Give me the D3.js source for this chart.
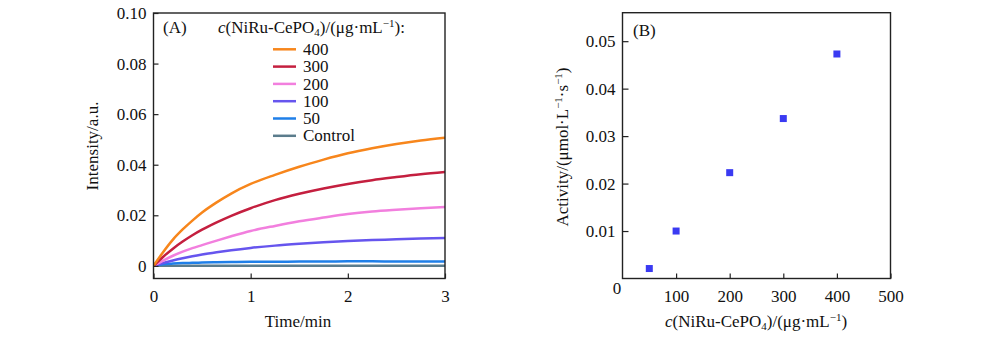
<!DOCTYPE html>
<html>
<head>
<meta charset="utf-8">
<script src="https://cdn.jsdelivr.net/npm/d3@7"></script>
<style>
  body { margin: 0; background: #fff; }
  svg text { font-family: "Liberation Serif", "Times New Roman", serif; fill: #111; }
</style>
</head>
<body>
<svg id="chart" width="1000" height="337"></svg>
<script>
// Panel A: time (min) and intensity per concentration
const times = [0, 0.1, 0.2, 0.3, 0.4, 0.5, 0.65, 0.8, 1.0, 1.25, 1.5, 1.75, 2.0, 2.25, 2.5, 2.75, 3.0];
const series = [
  { name: "400", color: "#f7861c", values: [0, 0.0055, 0.0104, 0.0144, 0.0179, 0.0211, 0.0251, 0.0286, 0.0324, 0.0360, 0.0392, 0.0420, 0.0445, 0.0465, 0.0482, 0.0496, 0.0507] },
  { name: "300", color: "#c41f3f", values: [0, 0.0036, 0.0068, 0.0096, 0.0121, 0.0143, 0.0172, 0.0198, 0.0228, 0.0260, 0.0285, 0.0306, 0.0324, 0.0339, 0.0351, 0.0362, 0.0371] },
  { name: "200", color: "#f27fde", values: [0, 0.0021, 0.0040, 0.0056, 0.0070, 0.0082, 0.0100, 0.0117, 0.0138, 0.0158, 0.0176, 0.0191, 0.0205, 0.0215, 0.0222, 0.0228, 0.0233] },
  { name: "100", color: "#6655ee", values: [0, 0.0011, 0.0021, 0.0030, 0.0038, 0.0045, 0.0054, 0.0062, 0.0071, 0.0080, 0.0087, 0.0093, 0.0098, 0.0102, 0.0105, 0.0108, 0.0110] },
  { name: "50", color: "#1f7fe8", values: [0, 0.0006, 0.0009, 0.0011, 0.0012, 0.0013, 0.0014, 0.0015, 0.0016, 0.0016, 0.0017, 0.0017, 0.0018, 0.0018, 0.0017, 0.0017, 0.0017] },
  { name: "Control", color: "#5b7c8c", values: [0, 0, 0, 0, 0, 0, 0, 0, 0, 0, 0, 0, 0, 0, 0, 0, 0] },
];
const xTicksA = [0, 1, 2, 3];
const yTicksA = [0, 0.02, 0.04, 0.06, 0.08, 0.1];

// Panel B: activity vs concentration
const conc = [50, 100, 200, 300, 400];
const activity = [0.0021, 0.0100, 0.0223, 0.0337, 0.0473];
const xTicksB = [100, 200, 300, 400, 500];
const yTicksB = [0.01, 0.02, 0.03, 0.04, 0.05];

const svg = d3.select("#chart");
const FS = "17px";

function frame(x0, y0, x1, y1) {
  svg.append("rect")
    .attr("x", x0).attr("y", y0)
    .attr("width", x1 - x0).attr("height", y1 - y0)
    .attr("fill", "none").attr("stroke", "#222").attr("stroke-width", 1.4);
}

function styleAxis(g) {
  g.select(".domain").remove();
  g.selectAll(".tick line").attr("stroke", "#222").attr("stroke-width", 1.2);
  g.selectAll(".tick text").attr("font-size", FS).attr("font-family", "Liberation Serif").attr("fill", "#111");
}

// ---------- Panel A ----------
const xA = d3.scaleLinear().domain([0, 3]).range([153.5, 445]);
const yA = d3.scaleLinear().domain([-0.005, 0.1]).range([278.5, 13]);

svg.append("clipPath").attr("id", "clipA")
  .append("rect").attr("x", 153.5).attr("y", 13).attr("width", 445 - 153.5).attr("height", 278.5 - 13);

const line = d3.line()
  .x((d, i) => xA(times[i]))
  .y((d) => yA(d))
  .curve(d3.curveMonotoneX);

const plotA = svg.append("g").attr("clip-path", "url(#clipA)");
series.slice().reverse().forEach((s) => {
  plotA.append("path")
    .datum(s.values)
    .attr("fill", "none")
    .attr("stroke", s.color)
    .attr("stroke-width", 2.5)
    .attr("stroke-linejoin", "round")
    .attr("d", line);
});

svg.append("g")
  .attr("transform", `translate(0, ${yA.range()[0]})`)
  .call(d3.axisBottom(xA).tickValues(xTicksA).tickSizeInner(-5).tickSizeOuter(0).tickPadding(11)
    .tickFormat(d3.format("d")))
  .call(styleAxis);

svg.append("g")
  .attr("transform", `translate(${xA.range()[0]}, 0)`)
  .call(d3.axisLeft(yA).tickValues(yTicksA).tickSizeInner(-5).tickSizeOuter(0).tickPadding(7)
    .tickFormat((d) => (d === 0 ? "0" : d3.format(".2f")(d))))
  .call(styleAxis);

frame(153.5, 13, 445, 278.5);

svg.append("text").attr("x", 298).attr("y", 327).attr("text-anchor", "middle")
  .attr("font-size", FS).text("Time/min");

svg.append("text").attr("transform", "translate(98, 146) rotate(-90)")
  .attr("text-anchor", "middle").attr("font-size", FS).text("Intensity/a.u.");

svg.append("text").attr("x", 163).attr("y", 33).attr("font-size", FS).text("(A)");

const titleA = svg.append("text").attr("x", 218).attr("y", 33).attr("font-size", FS);
titleA.append("tspan").attr("font-style", "italic").text("c");
titleA.append("tspan").text("(NiRu-CePO");
titleA.append("tspan").attr("font-size", "11px").attr("dy", 3).text("4");
titleA.append("tspan").attr("dy", -3).text(")/(μg·mL");
titleA.append("tspan").attr("font-size", "11px").attr("dy", -6).text("−1");
titleA.append("tspan").attr("dy", 6).text("):");

const legend = svg.append("g");
series.forEach((s, i) => {
  const y = 49.3 + i * 17.3;
  legend.append("line")
    .attr("x1", 273).attr("x2", 296).attr("y1", y).attr("y2", y)
    .attr("stroke", s.color).attr("stroke-width", 2.5);
  legend.append("text").attr("x", 303).attr("y", y).attr("dy", "0.33em")
    .attr("font-size", FS).text(s.name);
});

// ---------- Panel B ----------
const xB = d3.scaleLinear().domain([0, 500]).range([622.5, 890.5]);
const yB = d3.scaleLinear().domain([0, 0.056]).range([278.5, 12.7]);

svg.append("g")
  .attr("transform", `translate(0, ${yB.range()[0]})`)
  .call(d3.axisBottom(xB).tickValues(xTicksB).tickSizeInner(-5).tickSizeOuter(0).tickPadding(11))
  .call(styleAxis);

svg.append("g")
  .attr("transform", `translate(${xB.range()[0]}, 0)`)
  .call(d3.axisLeft(yB).tickValues(yTicksB).tickSizeInner(-6).tickSizeOuter(0).tickPadding(7)
    .tickFormat(d3.format(".2f")))
  .call(styleAxis);

svg.append("text").attr("x", 617).attr("y", 293.5).attr("text-anchor", "middle")
  .attr("font-size", FS).text("0");

svg.selectAll("rect.pt")
  .data(conc)
  .enter()
  .append("rect")
  .attr("class", "pt")
  .attr("x", (d) => xB(d) - 3.5)
  .attr("y", (d, i) => yB(activity[i]) - 3.5)
  .attr("width", 7).attr("height", 7)
  .attr("fill", "#3a3af2");

frame(622.5, 12.7, 890.5, 278.5);

svg.append("text").attr("x", 633).attr("y", 36).attr("font-size", FS).text("(B)");

const xLabB = svg.append("text").attr("x", 756).attr("y", 327).attr("text-anchor", "middle").attr("font-size", FS);
xLabB.append("tspan").attr("font-style", "italic").text("c");
xLabB.append("tspan").text("(NiRu-CePO");
xLabB.append("tspan").attr("font-size", "11px").attr("dy", 3).text("4");
xLabB.append("tspan").attr("dy", -3).text(")/(μg·mL");
xLabB.append("tspan").attr("font-size", "11px").attr("dy", -6).text("−1");
xLabB.append("tspan").attr("dy", 6).text(")");

const yLabB = svg.append("text").attr("transform", "translate(568, 147) rotate(-90)")
  .attr("text-anchor", "middle").attr("font-size", FS);
yLabB.append("tspan").text("Activity/(μmol·L");
yLabB.append("tspan").attr("font-size", "11px").attr("dy", -6).text("−1");
yLabB.append("tspan").attr("dy", 6).text("·s");
yLabB.append("tspan").attr("font-size", "11px").attr("dy", -6).text("−1");
yLabB.append("tspan").attr("dy", 6).text(")");
</script>
</body>
</html>
